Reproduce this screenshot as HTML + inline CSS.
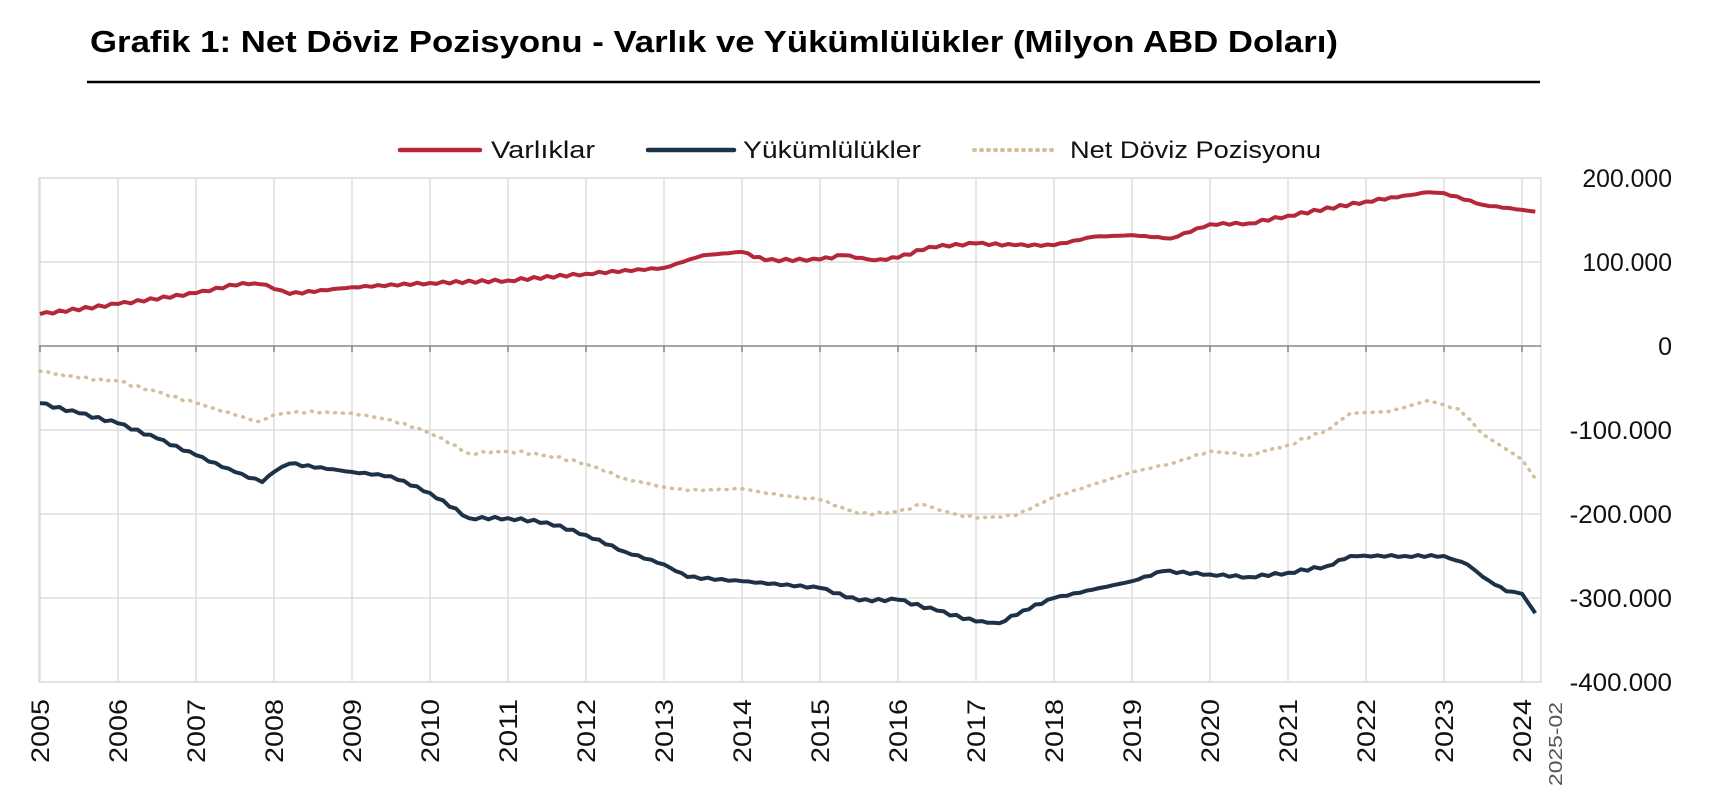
<!DOCTYPE html>
<html><head><meta charset="utf-8"><style>
body{margin:0;background:#fff;width:1712px;height:802px;overflow:hidden;font-family:"Liberation Sans","DejaVu Sans",sans-serif}
</style></head><body>
<svg id="s" width="1712" height="802" xmlns="http://www.w3.org/2000/svg" font-family="Liberation Sans, DejaVu Sans, sans-serif">
<text x="90" y="52" font-size="31" font-weight="bold" fill="#000" textLength="1248" lengthAdjust="spacingAndGlyphs">Grafik 1: Net Döviz Pozisyonu - Varlık ve Yükümlülükler (Milyon ABD Doları)</text>
<line x1="87" y1="82" x2="1540" y2="82" stroke="#000" stroke-width="2.5"/>
<g font-size="24" fill="#111">
<line x1="400" y1="150" x2="480" y2="150" stroke="#b5273a" stroke-width="4.5" stroke-linecap="round"/>
<text x="491" y="158" textLength="104" lengthAdjust="spacingAndGlyphs">Varlıklar</text>
<line x1="648" y1="150" x2="734" y2="150" stroke="#1e3247" stroke-width="4.5" stroke-linecap="round"/>
<text x="743" y="158" textLength="178" lengthAdjust="spacingAndGlyphs">Yükümlülükler</text>
<line x1="974" y1="150" x2="1054" y2="150" stroke="#d3bf9f" stroke-width="4" stroke-dasharray="1,6" stroke-linecap="round"/>
<text x="1070" y="158" textLength="251" lengthAdjust="spacingAndGlyphs">Net Döviz Pozisyonu</text>
</g>
<g id="grid"></g>
<g id="lines"></g>
</svg>
<script>
var X0=40,DX=78,Y0=346,K=0.84;
function px(t){return X0+(t-2005)*DX}
function py(v){return Y0-v*K}
var g=document.getElementById('grid'),h='';
h+='<rect x="39" y="178" width="1502" height="504" fill="none" stroke="#ddd" stroke-width="1.5"/>';
for(var v=200;v>=-400;v-=100){var y=py(v);
 if(v!=0)h+='<line x1="39" y1="'+y+'" x2="1541" y2="'+y+'" stroke="#ddd" stroke-width="1.5"/>';
 var lab=(v==0?'0':(v<0?'-':'')+Math.abs(v)+'.000');
 var tl=lab.length==1?'':' textLength="'+(lab.length*12.8)+'" lengthAdjust="spacingAndGlyphs"';
 h+='<text x="1672" y="'+(y+9)+'" font-size="25" text-anchor="end" fill="#111"'+tl+'>'+lab+'</text>';}
for(var yr=2005;yr<=2024;yr++){var x=px(yr);
 h+='<line x1="'+x+'" y1="178" x2="'+x+'" y2="682" stroke="#ddd" stroke-width="1.5"/>';
 h+='<line x1="'+x+'" y1="346" x2="'+x+'" y2="352" stroke="#888" stroke-width="1.5"/>';
 h+='<text transform="translate('+(x+9)+',699) rotate(-90)" font-size="25" text-anchor="end" fill="#111" textLength="64" lengthAdjust="spacingAndGlyphs">'+yr+'</text>';}
h+='<line x1="39" y1="346" x2="1541" y2="346" stroke="#888" stroke-width="1.5"/>';
h+='<text transform="translate(1562,702) rotate(-90)" font-size="18" text-anchor="end" fill="#555" textLength="84" lengthAdjust="spacingAndGlyphs">2025-02</text>';
g.innerHTML=h;
var A=[[2005,38],[2006,50],[2007,63],[2007.6,75],[2007.9,73],[2008,68],[2008.2,62],[2009,70],[2010,75],[2011,78],[2012,86],[2013,93],[2013.5,108],[2014,112],[2014.3,102],[2015,103],[2015.3,108],[2015.7,102],[2016,105],[2016.4,118],[2017,122],[2017.5,120],[2018,120],[2018.5,130],[2019,132],[2019.5,128],[2020,145],[2020.5,146],[2021,155],[2022,172],[2022.8,183],[2023,182],[2023.5,168],[2024,162],[2024.17,160]];
var L=[[2005,-68],[2005.5,-80],[2006,-92],[2006.5,-110],[2007,-130],[2007.5,-150],[2007.85,-162],[2008,-150],[2008.2,-140],[2009,-150],[2009.5,-155],[2010,-175],[2010.5,-205],[2011,-205],[2011.5,-210],[2012,-225],[2012.5,-245],[2013,-260],[2013.3,-275],[2014,-280],[2015,-288],[2015.5,-303],[2016,-302],[2016.5,-315],[2017,-328],[2017.3,-330],[2017.6,-315],[2018,-300],[2018.5,-290],[2019,-280],[2019.4,-268],[2020,-272],[2020.5,-275],[2021,-270],[2021.5,-262],[2021.8,-250],[2022.5,-250],[2023,-250],[2023.3,-260],[2023.5,-275],[2023.8,-292],[2024,-295],[2024.17,-318]];
var N=[[2005,-30],[2005.5,-38],[2006,-42],[2006.5,-55],[2007,-68],[2007.5,-82],[2007.8,-90],[2008,-82],[2008.3,-78],[2009,-80],[2009.5,-88],[2010,-103],[2010.5,-128],[2011,-125],[2011.5,-130],[2012,-140],[2012.5,-158],[2013,-168],[2013.3,-172],[2014,-170],[2014.5,-178],[2015,-183],[2015.5,-200],[2016,-198],[2016.3,-188],[2016.7,-200],[2017,-205],[2017.5,-202],[2018,-180],[2018.5,-165],[2019,-150],[2019.5,-140],[2020,-125],[2020.5,-130],[2021,-118],[2021.5,-100],[2021.8,-80],[2022.3,-78],[2022.8,-65],[2023,-70],[2023.2,-75],[2023.5,-105],[2024,-135],[2024.17,-158]];
function path(d){var s='';for(var i=0;i<d.length;i++){var t0=d[i][0];
 if(i>0){var p=d[i-1];var n=Math.max(1,Math.round((t0-p[0])*12));
  for(var j=1;j<=n;j++){var t=p[0]+(t0-p[0])*j/n;var v=p[1]+(d[i][1]-p[1])*j/n;
   if(j<n)v+=Math.sin(t*37.1)*1.5;
   s+=' L'+px(t).toFixed(1)+','+py(v).toFixed(1);}}
 else s='M'+px(t0)+','+py(d[i][1]);}
 return s;}
document.getElementById('lines').innerHTML=
'<path d="'+path(N)+'" fill="none" stroke="#d3bf9f" stroke-width="3.5" stroke-dasharray="1,7" stroke-linecap="round"/>'+
'<path d="'+path(L)+'" fill="none" stroke="#1e3247" stroke-width="4" stroke-linejoin="round"/>'+
'<path d="'+path(A)+'" fill="none" stroke="#b5273a" stroke-width="4" stroke-linejoin="round"/>';
</script>
</body></html>
